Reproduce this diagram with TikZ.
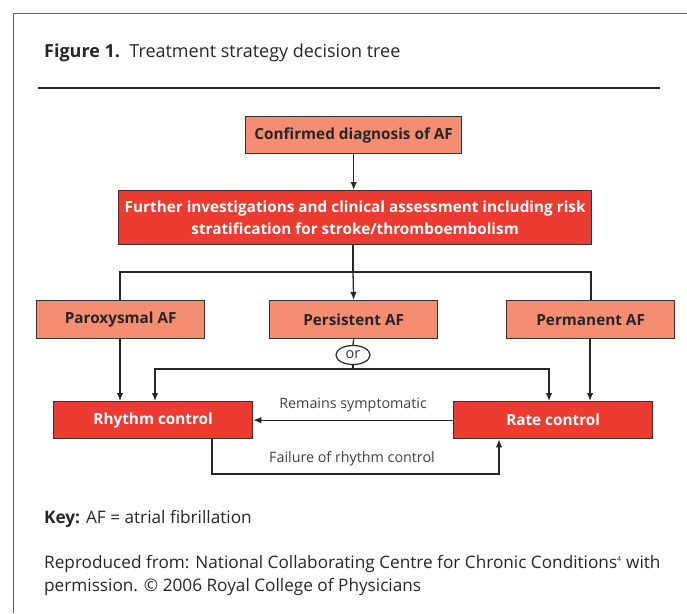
\documentclass[tikz,border=0pt]{standalone}
\usepackage{fontspec}
\setmainfont{Open Sans}
\usetikzlibrary{arrows.meta,calc,shapes.geometric}
\definecolor{salmon}{HTML}{F58D72}
\definecolor{redbox}{HTML}{EC3B31}
\definecolor{edge}{HTML}{333333}
\begin{document}
\begin{tikzpicture}[x=1pt,y=-1pt,
  box/.style={draw=edge,line width=1.3pt,anchor=north west,inner sep=0pt,align=center,font=\fontsize{15.3}{22}\selectfont\bfseries},
  lightbox/.style={box,fill=salmon,text=black!85},
  darkbox/.style={box,fill=redbox,text=white},
  conn/.style={draw=black!85,line width=1.3pt},
  arr/.style={conn,-{Latex[length=8pt,width=6.5pt]}},
  lbl/.style={font=\fontsize{14.3}{16}\selectfont,text=black!75,inner sep=0pt},
  body/.style={anchor=base west,inner sep=0pt,font=\fontsize{17.2}{20}\selectfont,text=black!85}]
\useasboundingbox (0,0) rectangle (687,613);
\draw[black!60,line width=1pt] (13,613) -- (13,13) -- (687,13);
\node[body,font=\fontsize{18}{20}\selectfont] (title) at (44,57) {\textbf{Figure 1.}\ \ Treatment strategy decision tree};
\draw[black!85,line width=2.2pt] (38,88) -- (660,88);

\node[lightbox,minimum width=216pt,minimum height=37pt] (conf) at (245,116) {Confirmed diagnosis of AF};
\node[darkbox,minimum width=473pt,minimum height=54pt] (further) at (118,190) {Further investigations and clinical assessment including risk\\stratification for stroke/thromboembolism};
\node[lightbox,minimum width=168pt,minimum height=38pt] (parox) at (36,300) {Paroxysmal AF};
\node[lightbox,minimum width=168pt,minimum height=38pt] (pers) at (269,300) {Persistent AF};
\node[lightbox,minimum width=168pt,minimum height=38pt] (perm) at (506,300) {Permanent AF};
\node[ellipse,draw=black!85,line width=1.2pt,minimum width=34pt,minimum height=19pt,inner sep=0pt,font=\fontsize{14.5}{14}\selectfont,text=black!80] (or) at (353,355) {or};
\node[darkbox,minimum width=199pt,minimum height=37pt] (rhythm) at (53,401) {Rhythm control};
\node[darkbox,minimum width=199pt,minimum height=37pt] (rate) at (453,401) {Rate control};

\coordinate (j1) at (353,272);
\coordinate (j2) at (353,369);
\coordinate (f1) at (212,474);
\coordinate (f2) at (499,474);

\draw[arr] (conf.south) -- (further.north -| conf.south);
\draw[conn] (further.south -| j1) -- (j1);
\draw[arr] (j1) -- (pers.north);
\draw[conn] (parox.north -| 120,0) |- (j1) -| (perm.north -| 591,0);
\draw[arr] (parox.south -| 120,0) -- (rhythm.north -| 120,0);
\draw[arr] (perm.south -| 590,0) -- (rate.north -| 590,0);
\draw[conn] (pers.south) -- (or.north);
\draw[conn] (or.south) -- (j2);
\draw[arr] (j2) -| (rhythm.north -| 155,0);
\draw[arr] (j2) -| (rate.north -| 549,0);
\draw[arr] (rate.west) -- (rhythm.east) node[lbl,midway,above=8pt] (rem) {Remains symptomatic};
\draw[arr] (rhythm.south -| f1) -- (f1) -- (f2) -- (rate.south -| f2);
\node[lbl] (fail) at (352,459) {Failure of rhythm control};

\node[body] (key) at (44,523) {\textbf{Key:} AF = atrial fibrillation};
\node[body] (repro1) at (44,568) {Reproduced from: National Collaborating Centre for Chronic Conditions\textsuperscript{\scriptsize 4} with};
\node[body] (repro2) at (44,591) {permission. \textcopyright{} 2006 Royal College of Physicians};
\end{tikzpicture}
\end{document}
